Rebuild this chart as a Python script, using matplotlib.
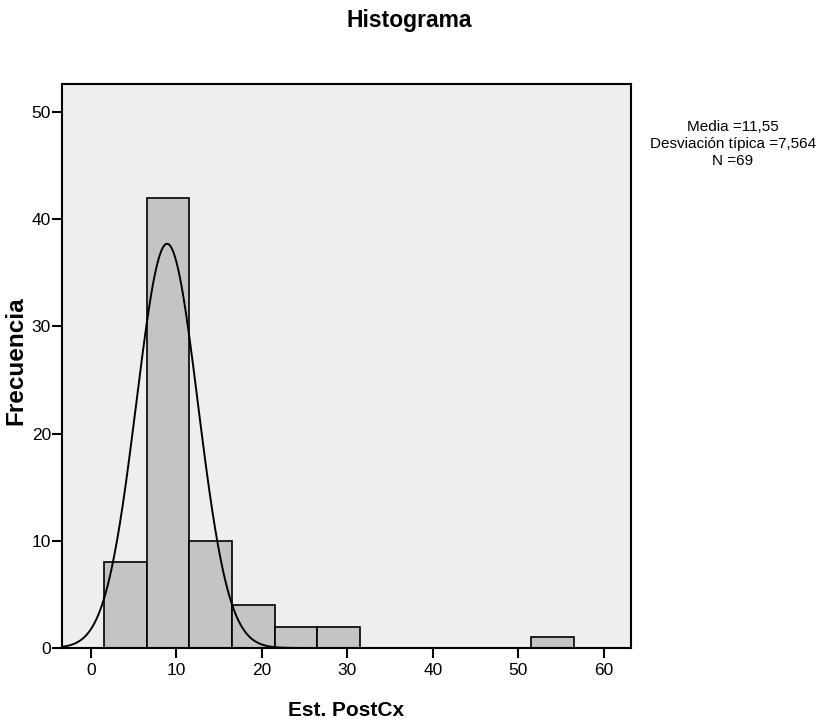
import numpy as np
import matplotlib
matplotlib.use('Agg')
import matplotlib.pyplot as plt
from matplotlib import font_manager

# histogram bins (width 5, starting at 1.5)
bin_edges = [1.5, 6.5, 11.5, 16.5, 21.5, 26.5, 31.5, 36.5, 41.5, 46.5, 51.5, 56.5]
counts = [8, 42, 10, 4, 2, 2, 0, 0, 0, 0, 1]

# normal curve as drawn by SPSS
curve_center = 8.9
curve_sd = 3.6
curve_peak = 37.7

stats_text = "Media =11,55\nDesviación típica =7,564\nN =69"

names = {f.name for f in font_manager.fontManager.ttflist}
narrow = 'Liberation Sans Narrow' if 'Liberation Sans Narrow' in names else 'Liberation Sans'
plt.rcParams['font.family'] = [narrow, 'DejaVu Sans']

fig = plt.figure(figsize=(8.19, 7.26), dpi=100)
ax = fig.add_axes([62/819, 1-648/726, (631-62)/819, (648-84)/726])
ax.set_facecolor('#eeeeee')

widths = np.diff(bin_edges)
ax.bar(bin_edges[:-1], counts, width=widths, align='edge', color='#c4c4c4',
       edgecolor='black', linewidth=1.2, zorder=2)

xs = np.linspace(-3.4, 63.2, 600)
ys = curve_peak*np.exp(-0.5*((xs-curve_center)/curve_sd)**2)
ax.plot(xs, ys, color='black', linewidth=1.4, zorder=3)

ax.set_xlim(-3.4, 63.2)
ax.set_ylim(0, 52.6)
ax.set_xticks([0, 10, 20, 30, 40, 50, 60])
ax.set_yticks([0, 10, 20, 30, 40, 50])
ax.tick_params(direction='out', length=7, width=1.5, labelsize=12.5)
ax.tick_params(axis='y', pad=1)
ax.tick_params(axis='x', pad=4)
for s in ax.spines.values():
    s.set_linewidth(1.5)

ax.set_xlabel('Est. PostCx', fontsize=15, fontweight='bold', labelpad=16)
ax.set_ylabel('Frecuencia', fontsize=17.5, fontweight='bold')
ax.yaxis.set_label_coords(-0.06, 0.51)
fig.text(0.5, 1-20/726, 'Histograma', fontsize=16.5, fontweight='bold', ha='center', va='center')
fig.text(733/819, 1-144/726, stats_text, fontsize=11, ha='center', va='center', linespacing=1.3)

fig.savefig('out.png', dpi=100)
